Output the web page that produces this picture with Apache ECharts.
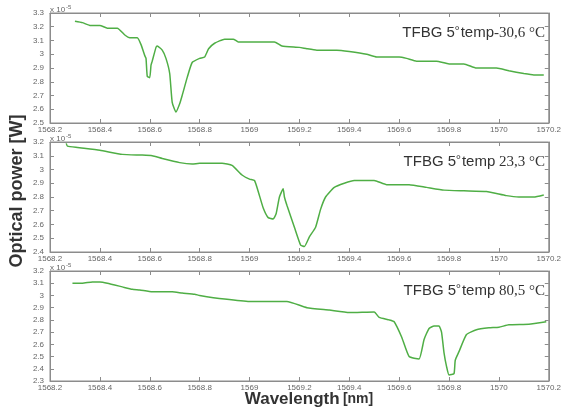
<!DOCTYPE html>
<html>
<head>
<meta charset="utf-8">
<script src="https://cdn.jsdelivr.net/npm/echarts@6/dist/echarts.min.js"></script>
<style>
  html, body { margin: 0; padding: 0; background: #fff; }
  #chart { width: 564px; height: 411px; }
</style>
</head>
<body>
<div id="chart"></div>
<script>
// optical power values are in units of 1e-5 W (the "x 10^-5" on each axis)
const wl1 = [1568.30, 1568.33, 1568.36, 1568.40, 1568.43, 1568.47, 1568.50, 1568.52, 1568.55, 1568.565, 1568.58, 1568.585, 1568.59, 1568.60, 1568.605, 1568.61, 1568.625, 1568.63, 1568.65, 1568.665, 1568.68, 1568.69, 1568.705, 1568.72, 1568.73, 1568.75, 1568.77, 1568.80, 1568.82, 1568.836, 1568.86, 1568.90, 1568.935, 1568.955, 1569.10, 1569.13, 1569.20, 1569.23, 1569.27, 1569.35, 1569.40, 1569.47, 1569.51, 1569.55, 1569.60, 1569.63, 1569.67, 1569.75, 1569.80, 1569.86, 1569.91, 1569.99, 1570.04, 1570.10, 1570.14, 1570.18]
const pw1 = [3.24, 3.23, 3.21, 3.21, 3.19, 3.19, 3.14, 3.12, 3.12, 3.07, 2.99, 2.97, 2.84, 2.83, 2.92, 2.95, 3.05, 3.06, 3.03, 2.97, 2.86, 2.65, 2.58, 2.64, 2.70, 2.83, 2.94, 2.97, 2.98, 3.04, 3.08, 3.11, 3.11, 3.09, 3.09, 3.06, 3.05, 3.04, 3.03, 3.03, 3.02, 3.00, 2.98, 2.98, 2.98, 2.97, 2.95, 2.95, 2.93, 2.93, 2.90, 2.90, 2.88, 2.86, 2.85, 2.85]

const wl2 = [1568.265, 1568.27, 1568.31, 1568.40, 1568.49, 1568.57, 1568.61, 1568.65, 1568.72, 1568.77, 1568.80, 1568.89, 1568.93, 1568.97, 1569.00, 1569.02, 1569.035, 1569.055, 1569.075, 1569.095, 1569.107, 1569.12, 1569.135, 1569.14, 1569.15, 1569.18, 1569.205, 1569.22, 1569.24, 1569.265, 1569.285, 1569.305, 1569.34, 1569.38, 1569.42, 1569.50, 1569.55, 1569.64, 1569.71, 1569.78, 1569.86, 1569.95, 1570.03, 1570.08, 1570.14, 1570.18]
const pw2 = [3.19, 3.17, 3.16, 3.14, 3.11, 3.105, 3.10, 3.08, 3.05, 3.04, 3.045, 3.045, 3.03, 2.96, 2.93, 2.92, 2.84, 2.72, 2.65, 2.64, 2.68, 2.80, 2.86, 2.80, 2.74, 2.58, 2.45, 2.44, 2.51, 2.58, 2.71, 2.80, 2.87, 2.90, 2.92, 2.92, 2.89, 2.89, 2.87, 2.85, 2.845, 2.84, 2.81, 2.80, 2.80, 2.815]

const wl3 = [1568.29, 1568.33, 1568.37, 1568.40, 1568.43, 1568.49, 1568.53, 1568.56, 1568.61, 1568.69, 1568.73, 1568.78, 1568.80, 1568.90, 1569.00, 1569.15, 1569.23, 1569.32, 1569.40, 1569.50, 1569.52, 1569.56, 1569.58, 1569.61, 1569.64, 1569.68, 1569.70, 1569.72, 1569.74, 1569.76, 1569.77, 1569.78, 1569.79, 1569.80, 1569.82, 1569.825, 1569.84, 1569.87, 1569.91, 1569.96, 1570.00, 1570.04, 1570.12, 1570.19]
const pw3 = [3.10, 3.10, 3.11, 3.11, 3.10, 3.07, 3.05, 3.045, 3.03, 3.03, 3.02, 3.01, 3.00, 2.97, 2.95, 2.95, 2.90, 2.88, 2.86, 2.865, 2.82, 2.80, 2.785, 2.66, 2.50, 2.48, 2.64, 2.73, 2.75, 2.75, 2.70, 2.53, 2.42, 2.35, 2.36, 2.47, 2.54, 2.68, 2.72, 2.735, 2.74, 2.76, 2.765, 2.785]

const titleTemps = ['-30,6 °C', ' 23,3 °C', ' 80,5 °C']
const yRanges = [[2.5, 3.3], [2.4, 3.2], [2.3, 3.2]]
const gridTops = [13, 142, 271]

const lineColor = '#4fae45'
const axisColor = '#8c8c8c'

const chart = echarts.init(document.getElementById('chart'))

function pairs(xs, ys) {
  return xs.map((x, i) => [x, ys[i]])
}
const seriesData = [pairs(wl1, pw1), pairs(wl2, pw2), pairs(wl3, pw3)]

const grids = [], xAxes = [], yAxes = [], series = [], graphics = []

gridTops.forEach((top, i) => {
  grids.push({ left: 50, right: 11, top: top, height: 110, show: true, borderColor: axisColor, borderWidth: 1 })
  const axisBase = {
    gridIndex: i,
    axisLine: { show: true, lineStyle: { color: axisColor } },
    axisTick: { show: true, inside: true, length: 4, lineStyle: { color: axisColor } },
    splitLine: { show: false }
  }
  xAxes.push(Object.assign({}, axisBase, {
    type: 'value', min: 1568.2, max: 1570.2, interval: 0.2, position: 'bottom',
    axisLabel: {
      fontSize: 8, color: '#666', margin: 3, showMaxLabel: true,
      formatter: v => String(parseFloat(v.toFixed(1)))
    }
  }))
  xAxes.push(Object.assign({}, axisBase, {
    type: 'value', min: 1568.2, max: 1570.2, interval: 0.2, position: 'top',
    axisLabel: { show: false }
  }))
  yAxes.push(Object.assign({}, axisBase, {
    type: 'value', min: yRanges[i][0], max: yRanges[i][1], interval: 0.1, position: 'left',
    axisLabel: {
      fontSize: 8, color: '#666', margin: 6, showMinLabel: true, showMaxLabel: true,
      formatter: v => String(parseFloat(v.toFixed(1)))
    }
  }))
  yAxes.push(Object.assign({}, axisBase, {
    type: 'value', min: yRanges[i][0], max: yRanges[i][1], interval: 0.1, position: 'right',
    axisLabel: { show: false }
  }))
  series.push({
    type: 'line', xAxisIndex: i * 2, yAxisIndex: i * 2,
    data: seriesData[i], showSymbol: false, smooth: 0.15,
    lineStyle: { color: lineColor, width: 1.5 }
  })
  // "x 10^-5" exponent above the y axis
  graphics.push({
    type: 'text', left: 50, top: top - 9,
    style: {
      text: '{a|x 10}{b|-5}',
      rich: {
        a: { fontSize: 8, fill: '#666', fontFamily: 'Arial' },
        b: { fontSize: 6, fill: '#666', fontFamily: 'Arial', verticalAlign: 'top', padding: [0, 0, 6, 1] }
      }
    }
  })
  graphics.push({
    type: 'text', right: 19, top: top + 12,
    style: {
      text: '{a|TFBG 5}{d|°}{a|temp}{b|' + titleTemps[i] + '}',
      rich: {
        a: { fontSize: 15, fill: '#333', fontFamily: 'Liberation Sans Narrow, Arial' },
        d: { fontSize: 12, fill: '#333', fontFamily: 'Liberation Serif', verticalAlign: 'top', padding: [0, 1, 4, 0] },
        b: { fontSize: 15, fill: '#333', fontFamily: 'Liberation Serif' }
      }
    }
  })
})

graphics.push({
  type: 'text', x: 17, y: 191, rotation: Math.PI / 2,
  style: {
    text: 'Optical power [W]', fontSize: 18, fontWeight: 'bold', fill: '#333',
    fontFamily: 'Arial', align: 'center', verticalAlign: 'middle'
  }
})
graphics.push({
  type: 'text', x: 309, y: 399,
  style: {
    text: '{a|Wavelength} {b|[nm]}', align: 'center', verticalAlign: 'middle',
    rich: {
      a: { fontSize: 17, fontWeight: 'bold', fill: '#333', fontFamily: 'Arial' },
      b: { fontSize: 14, fontWeight: 'bold', fill: '#333', fontFamily: 'Arial' }
    }
  }
})

chart.setOption({
  animation: false,
  grid: grids,
  xAxis: xAxes,
  yAxis: yAxes,
  series: series,
  graphic: graphics
})
</script>
</body>
</html>
